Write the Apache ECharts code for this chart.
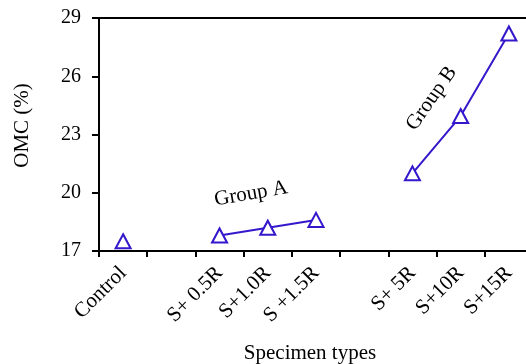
<!DOCTYPE html>
<html>
<head>
<meta charset="utf-8">
<script src="https://cdn.jsdelivr.net/npm/echarts@6/dist/echarts.min.js"></script>
<style>
  html, body { margin: 0; padding: 0; background: #fff; }
  #chart { width: 526px; height: 364px; }
</style>
</head>
<body>
<div id="chart"></div>
<script>
// categories (blank slots separate the groups)
var categories = ['Control', '', 'S+ 0.5R', 'S+1.0R', 'S +1.5R', '', 'S+ 5R', 'S+10R', 'S+15R'];
// OMC (%)
var omc = [17.5, '-', 17.8, 18.2, 18.6, '-', 21.0, 23.95, 28.2];
var yTicks = [17, 20, 23, 26, 29];
// group annotations: [category, value, text, angle, label offset (in the rotated frame)]
var groupNotes = [
    ['S+1.0R', 20.1, 'Group A', 10, [-17, 0]],
    ['S+ 5R', 24.85, 'Group B', 55, [11, 15.6]]
];

var blue = '#3318CC';
var font = 'Liberation Serif';

var chart = echarts.init(document.getElementById('chart'), null, { renderer: 'canvas' });

chart.setOption({
    animation: false,
    grid: {
        left: 99, top: 18, width: 434, height: 233,
        outerBoundsMode: 'none',
        containLabel: false,
        show: true, borderColor: '#000', borderWidth: 2, backgroundColor: 'transparent'
    },
    xAxis: {
        type: 'category',
        data: categories,
        boundaryGap: true,
        name: 'Specimen types',
        nameLocation: 'middle',
        nameGap: 92,
        nameTextStyle: { fontFamily: font, fontSize: 21, color: '#000', padding: [0, 12, 0, 0] },
        axisLine: { lineStyle: { color: '#000', width: 2 } },
        axisTick: { show: true, length: 6, lineStyle: { color: '#000', width: 2 } },
        axisLabel: {
            rotate: 45, interval: 0, margin: 19,
            fontFamily: font, fontSize: 21, color: '#000'
        },
        splitLine: { show: false }
    },
    yAxis: {
        type: 'value',
        min: 17, max: 29,
        name: 'OMC (%)',
        nameLocation: 'middle',
        nameGap: 66,
        nameRotate: 90,
        nameTextStyle: { fontFamily: font, fontSize: 21, color: '#000', padding: [0, 0, 0, 18] },
        axisLine: { show: true, lineStyle: { color: '#000', width: 2 } },
        axisTick: { show: true, length: 7, customValues: yTicks, lineStyle: { color: '#000', width: 2 } },
        axisLabel: { customValues: yTicks, margin: 18, fontFamily: font, fontSize: 20, color: '#000' },
        splitLine: { show: false }
    },
    series: [
        {
            type: 'line',
            data: omc,
            connectNulls: false,
            symbol: 'emptyTriangle',
            symbolSize: [15, 14],
            showAllSymbol: true,
            lineStyle: { color: blue, width: 2 },
            itemStyle: { color: blue, borderColor: blue, borderWidth: 2.4 }
        },
        {
            type: 'scatter',
            symbolSize: 0,
            silent: true,
            itemStyle: { opacity: 1 },
            data: groupNotes.map(function (g) {
                return {
                    value: [g[0], g[1]],
                    label: {
                        show: true, position: 'inside', formatter: g[2], rotate: g[3],
                        offset: g[4],
                        fontFamily: font, fontSize: 21, color: '#000'
                    }
                };
            })
        }
    ]
});
</script>
</body>
</html>
